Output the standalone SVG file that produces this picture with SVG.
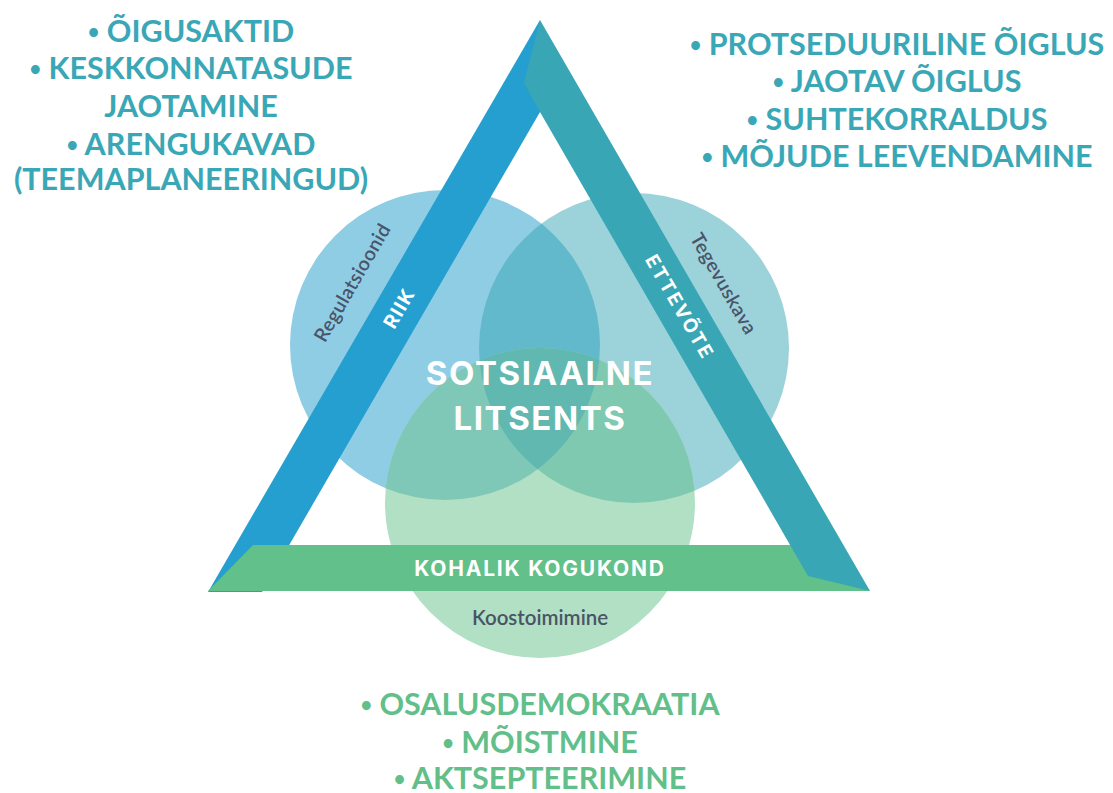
<svg xmlns="http://www.w3.org/2000/svg" width="1113" height="793" viewBox="0 0 1113 793">
<style>
.list{font-family:Lato,"Liberation Sans",sans-serif;font-weight:700;font-size:30.5px;text-anchor:middle}
.b{font-size:20px}
.teal{fill:#3aa7b6}
.green{fill:#62bf8a}
.big{font-family:Inter,"Open Sans","Liberation Sans",sans-serif;font-weight:700;fill:#ffffff;text-anchor:middle}
.small{font-family:Lato,"Liberation Sans",sans-serif;font-weight:600;fill:#4a5468;text-anchor:middle}
</style>
<defs>
<clipPath id="cL"><circle cx="445" cy="345" r="155"/></clipPath>
<clipPath id="cR"><circle cx="634" cy="348" r="155"/></clipPath>
</defs>
<rect width="1113" height="793" fill="#ffffff"/>
<g id="circles">
<circle id="circle-riik" cx="445" cy="345" r="155" fill="#8fcde5"/>
<circle id="circle-ettevote" cx="634" cy="348" r="155" fill="#9cd3da"/>
<circle id="circle-kogukond" cx="540" cy="503" r="155" fill="#b1e0c4"/>
<circle cx="634" cy="348" r="155" fill="#62b9cb" clip-path="url(#cL)"/>
<g clip-path="url(#cL)"><circle cx="540" cy="503" r="155" fill="#7fc8b7"/></g>
<g clip-path="url(#cR)"><circle cx="540" cy="503" r="155" fill="#80c9b1"/></g>
<g clip-path="url(#cL)"><g clip-path="url(#cR)"><circle cx="540" cy="503" r="155" fill="#60b8b0"/></g></g>
</g>
<g id="bars">
<polygon id="bar-riik" points="540,20 208,592 262,592 540,112" fill="#259fcf"/>
<polygon id="bar-kogukond" points="253,545 800,545 870,591 208,591" fill="#62c08b"/>
<polygon id="bar-ettevote" points="540,20 870,591 808,576 540,112 524,83" fill="#38a6b5"/>
</g>
<g id="labels">
<text class="big" x="399" y="308" font-size="19" letter-spacing="1.5" transform="rotate(-60 399 308)" dy="7">RIIK</text>
<text class="small" x="353" y="283" font-size="19.5" letter-spacing="0.4" transform="rotate(-60 353 283)" dy="6">Regulatsioonid</text>
<text class="big" x="680" y="307" font-size="19" letter-spacing="2.2" transform="rotate(60 680 307)" dy="7">ETTEVÕTE</text>
<text class="small" x="723" y="284" font-size="19.5" letter-spacing="0.4" transform="rotate(60 723 284)" dy="6">Tegevuskava</text>
<text class="big" x="540" y="576" font-size="21" letter-spacing="1.8">KOHALIK KOGUKOND</text>
<text class="small" x="540" y="625" font-size="20.5">Koostoimimine</text>
<text class="big" x="540" y="385" font-size="33" letter-spacing="1.6">SOTSIAALNE</text>
<text class="big" x="540" y="430" font-size="33" letter-spacing="1.6">LITSENTS</text>
</g>
<g id="text-riik" class="list teal">
<text x="191" y="42"><tspan class="b" baseline-shift="3">•</tspan> ÕIGUSAKTID</text>
<text x="191" y="79"><tspan class="b" baseline-shift="3">•</tspan> KESKKONNATASUDE</text>
<text x="191" y="117">JAOTAMINE</text>
<text x="191" y="155"><tspan class="b" baseline-shift="3">•</tspan> ARENGUKAVAD</text>
<text x="191" y="190">(TEEMAPLANEERINGUD)</text>
</g>
<g id="text-ettevote" class="list teal">
<text x="897" y="55"><tspan class="b" baseline-shift="3">•</tspan> PROTSEDUURILINE ÕIGLUS</text>
<text x="897" y="92"><tspan class="b" baseline-shift="3">•</tspan> JAOTAV ÕIGLUS</text>
<text x="897" y="130"><tspan class="b" baseline-shift="3">•</tspan> SUHTEKORRALDUS</text>
<text x="897" y="167"><tspan class="b" baseline-shift="3">•</tspan> MÕJUDE LEEVENDAMINE</text>
</g>
<g id="text-kogukond" class="list green">
<text x="540" y="715"><tspan class="b" baseline-shift="3">•</tspan> OSALUSDEMOKRAATIA</text>
<text x="540" y="753"><tspan class="b" baseline-shift="3">•</tspan> MÕISTMINE</text>
<text x="540" y="789"><tspan class="b" baseline-shift="3">•</tspan> AKTSEPTEERIMINE</text>
</g>
</svg>
